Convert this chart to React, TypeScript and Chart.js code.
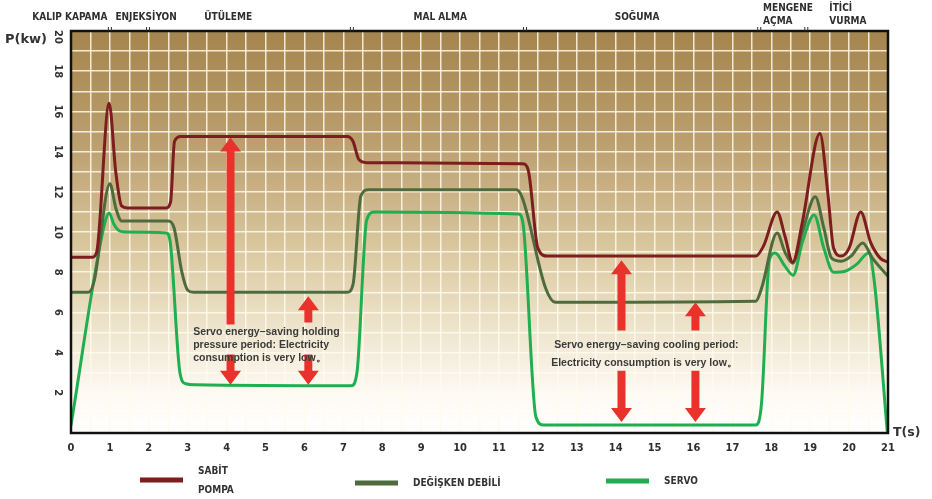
import React, { useEffect, useRef } from "react";
import { Chart, registerables } from "chart.js";

Chart.register(...registerables);

// ---------- data ----------
const seriesNames = ["SABİT\nPOMPA", "DEĞİŞKEN DEBİLİ", "SERVO"];
const seriesColors = ["#7d1d1e", "#4e6b3d", "#1fae50"];

const sabitT = [0, 0.55, 0.66, 0.98, 1.15, 1.3, 1.45, 2.45, 2.56, 2.66, 2.82, 7.1, 7.25, 7.4, 7.6, 11.6, 11.75, 12.0, 12.25, 17.6, 17.8, 18.15, 18.35, 18.55, 18.8, 19.25, 19.45, 19.6, 19.8, 20.0, 20.3, 20.55, 20.8, 21];
const sabitP = [8.75, 8.75, 9.0, 16.4, 13.0, 11.3, 11.2, 11.2, 11.5, 14.5, 14.75, 14.75, 14.5, 13.6, 13.45, 13.4, 13.1, 9.2, 8.8, 8.8, 9.3, 11.0, 9.8, 8.5, 10.5, 14.9, 12.0, 9.2, 8.8, 9.2, 11.0, 9.5, 8.7, 8.5];

const degiskenT = [0, 0.45, 0.6, 1.0, 1.15, 1.3, 2.5, 2.65, 2.85, 3.0, 3.15, 7.1, 7.25, 7.45, 7.65, 11.45, 11.6, 12.2, 12.45, 17.6, 17.75, 18.15, 18.35, 18.55, 18.8, 19.13, 19.35, 19.55, 19.8, 20.05, 20.35, 20.6, 21];
const degiskenP = [7.0, 7.0, 7.6, 12.4, 11.2, 10.55, 10.55, 10.2, 8.0, 7.1, 7.0, 7.0, 7.4, 11.8, 12.1, 12.1, 11.7, 7.2, 6.5, 6.55, 7.2, 9.95, 9.0, 8.45, 10.0, 11.75, 10.2, 8.7, 8.55, 8.8, 9.45, 8.7, 7.8];

const servoT = [0, 0.85, 0.98, 1.1, 1.25, 1.4, 2.45, 2.55, 2.8, 2.95, 3.2, 7.2, 7.35, 7.6, 7.8, 11.5, 11.62, 11.95, 12.15, 17.6, 17.75, 17.95, 18.1, 18.35, 18.56, 18.8, 19.1, 19.35, 19.6, 19.9, 20.2, 20.5, 20.65, 20.98];
const servoP = [0.4, 10.3, 10.95, 10.4, 10.05, 10.0, 9.95, 9.5, 3.0, 2.45, 2.4, 2.35, 3.0, 10.6, 11.0, 10.9, 10.4, 0.8, 0.4, 0.4, 1.5, 8.6, 8.95, 8.3, 7.85, 9.5, 10.85, 9.2, 8.0, 8.05, 8.4, 8.95, 7.5, 0.1];

// top phase labels (centre in seconds)
const phaseLabels = ["KALIP KAPAMA", "ENJEKSİYON", "ÜTÜLEME", "MAL ALMA", "SOĞUMA", "MENGENE\nAÇMA", "İTİCİ\nVURMA"];
const phaseCenters = [-0.03, 1.93, 4.04, 9.49, 14.55, 18.43, 19.97];
const phaseMarks = [1.0, 1.98, 7.22, 11.67, 17.69, 18.9];

// red arrows: x (s), tail (kW), head (kW)
const arrowX = [4.1, 6.1, 4.1, 6.1, 14.15, 16.05, 14.15, 16.05];
const arrowTail = [5.4, 5.5, 3.9, 3.9, 5.1, 5.1, 3.1, 3.1];
const arrowHead = [14.7, 6.8, 2.4, 2.4, 8.6, 6.5, 0.55, 0.55];

// notes: left x (s), first baseline (kW), lines
const noteX = [3.14, 12.42];
const noteY = [5.02, 4.38];
const noteLines = [
  ["Servo energy–saving holding", "pressure period: Electricity", "consumption is very low。"],
  ["Servo energy–saving cooling period:", "Electricity consumption is very low。"],
];

const xMin = 0, xMax = 21, yMin = 0, yMax = 20;

const NARROW = "'Liberation Sans Narrow', 'DejaVu Sans Condensed', 'Liberation Sans', sans-serif";

function toPts(t: number[], p: number[]) {
  return t.map((x, i) => ({ x, y: p[i] }));
}

function drawArrow(ctx: CanvasRenderingContext2D, x: number, yTail: number, yHead: number) {
  const shaftW = 8, headW = 21, headL = 14;
  const dir = yHead < yTail ? -1 : 1;
  const yBase = yHead - dir * headL;
  ctx.beginPath();
  ctx.moveTo(x - shaftW / 2, yTail);
  ctx.lineTo(x - shaftW / 2, yBase);
  ctx.lineTo(x - headW / 2, yBase);
  ctx.lineTo(x, yHead);
  ctx.lineTo(x + headW / 2, yBase);
  ctx.lineTo(x + shaftW / 2, yBase);
  ctx.lineTo(x + shaftW / 2, yTail);
  ctx.closePath();
  ctx.fill();
}

const decorPlugin = {
  id: "decor",
  beforeDraw(chart: any) {
    const { ctx, chartArea: a } = chart;
    const g = ctx.createLinearGradient(0, a.top, 0, a.bottom);
    g.addColorStop(0, "#a5854e");
    g.addColorStop(0.28, "#bb9f6f");
    g.addColorStop(0.55, "#dbc9a1");
    g.addColorStop(0.75, "#efe6cf");
    g.addColorStop(0.9, "#fcfaf3");
    g.addColorStop(1, "#ffffff");
    ctx.save();
    ctx.fillStyle = g;
    ctx.fillRect(a.left, a.top, a.right - a.left, a.bottom - a.top);
    ctx.restore();
  },
  afterDatasetsDraw(chart: any) {
    const { ctx, chartArea: a, scales } = chart;
    const xs = scales.x, ys = scales.y;
    ctx.save();
    // arrows
    ctx.fillStyle = "#e8322b";
    arrowX.forEach((ax, i) => {
      drawArrow(ctx, xs.getPixelForValue(ax), ys.getPixelForValue(arrowTail[i]), ys.getPixelForValue(arrowHead[i]));
    });
    // notes
    ctx.fillStyle = "#3a3a3a";
    ctx.font = "bold 10.5px 'Liberation Sans', Arial, sans-serif";
    ctx.textAlign = "left";
    ctx.textBaseline = "middle";
    noteLines.forEach((lines, i) => {
      const nx = xs.getPixelForValue(noteX[i]);
      const ny = ys.getPixelForValue(noteY[i]);
      const lh = i === 0 ? 13 : 18;
      lines.forEach((ln, j) => ctx.fillText(ln, nx - (i === 1 && j === 1 ? 3 : 0), ny + j * lh));
    });
    // border
    ctx.strokeStyle = "#111";
    ctx.lineWidth = 2.5;
    ctx.strokeRect(a.left, a.top, a.right - a.left, a.bottom - a.top);
    ctx.restore();
  },
  afterDraw(chart: any) {
    const { ctx, chartArea: a, scales } = chart;
    const xs = scales.x, ys = scales.y;
    ctx.save();
    ctx.fillStyle = "#333";
    // y tick labels, rotated
    ctx.font = `bold 11px ${NARROW}`;
    ctx.textAlign = "center";
    ctx.textBaseline = "middle";
    ys.ticks.forEach((t: any) => {
      const v = t.value;
      if (v > 0 && v % 2 === 0) {
        const py = ys.getPixelForValue(v);
        ctx.save();
        ctx.translate(a.left - 13, py + (v === 20 ? 6 : 0));
        ctx.rotate(Math.PI / 2);
        ctx.fillText(String(v), 0, 0);
        ctx.restore();
      }
    });
    // axis titles
    ctx.font = "bold 13px 'DejaVu Sans', sans-serif";
    ctx.textAlign = "left";
    ctx.fillText("P(kw)", 5, a.top + 9);
    ctx.font = "bold 12.5px 'DejaVu Sans', sans-serif";
    ctx.fillText("T(s)", a.right + 5, a.bottom);
    // phase labels
    ctx.font = `bold 10px ${NARROW}`;
    ctx.fillStyle = "#2e2e2e";
    phaseLabels.forEach((lab, i) => {
      const cx = xs.getPixelForValue(phaseCenters[i]);
      const lines = lab.split("\n");
      if (lines.length === 1) {
        ctx.textAlign = "center";
        ctx.fillText(lab, cx, a.top - 14);
      } else {
        const w = Math.max(...lines.map((l) => ctx.measureText(l).width));
        ctx.textAlign = "left";
        lines.forEach((l, j) => ctx.fillText(l, cx - w / 2, a.top - 23 + j * 13));
      }
    });
    // small phase marks on top border
    ctx.strokeStyle = "#333";
    ctx.lineWidth = 1;
    phaseMarks.forEach((m) => {
      const px = xs.getPixelForValue(m);
      ctx.beginPath();
      ctx.moveTo(px - 1.5, a.top - 4);
      ctx.lineTo(px - 1.5, a.top);
      ctx.moveTo(px + 1.5, a.top - 4);
      ctx.lineTo(px + 1.5, a.top);
      ctx.stroke();
    });
    // legend
    const legendSwatchX = [140, 355, 606];
    const legendY = [480, 483, 481];
    ctx.font = `bold 10px ${NARROW}`;
    ctx.textAlign = "left";
    seriesNames.forEach((name, i) => {
      ctx.fillStyle = seriesColors[i];
      ctx.fillRect(legendSwatchX[i], legendY[i] - 2.5, 43, 5);
      ctx.fillStyle = "#333";
      const lines = name.split("\n");
      const tx = legendSwatchX[i] + 58;
      if (lines.length === 1) {
        ctx.fillText(name, tx, legendY[i]);
      } else {
        lines.forEach((l, j) => ctx.fillText(l, tx, legendY[i] - 9 + j * 19));
      }
    });
    ctx.restore();
  },
};

export default function App() {
  const ref = useRef<HTMLCanvasElement>(null);
  useEffect(() => {
    document.body.style.margin = "0";
    if (!ref.current) return;
    const chart = new Chart(ref.current, {
      type: "line",
      data: {
        datasets: [
          { label: seriesNames[0], data: toPts(sabitT, sabitP), borderColor: seriesColors[0] },
          { label: seriesNames[1], data: toPts(degiskenT, degiskenP), borderColor: seriesColors[1] },
          { label: seriesNames[2], data: toPts(servoT, servoP), borderColor: seriesColors[2] },
        ].map((d) => ({
          ...d,
          borderWidth: 3,
          pointRadius: 0,
          fill: false,
          cubicInterpolationMode: "monotone" as const,
          borderCapStyle: "round" as const,
          borderJoinStyle: "round" as const,
        })),
      },
      options: {
        animation: false,
        responsive: false,
        layout: { padding: { top: 31, right: 44, left: 0, bottom: 0 } },
        plugins: { legend: { display: false }, tooltip: { enabled: false } },
        scales: {
          x: {
            type: "linear",
            min: xMin,
            max: xMax,
            afterFit: (s: any) => { s.height = 66; },
            grid: { color: "rgba(255,250,236,0.85)", lineWidth: 1.5, drawTicks: false },
            border: { display: false },
            ticks: {
              stepSize: 0.5,
              autoSkip: false,
              maxRotation: 0,
              padding: 9,
              color: "#2e2e2e",
              font: { family: NARROW, size: 11, weight: "bold" },
              callback: (v: any) => (Number.isInteger(v) ? String(v) : ""),
            },
          },
          y: {
            type: "linear",
            min: yMin,
            max: yMax,
            afterFit: (s: any) => { s.width = 71; },
            grid: { color: "rgba(255,250,236,0.85)", lineWidth: 1.5, drawTicks: false },
            border: { display: false },
            ticks: { stepSize: 1, display: false },
          },
        },
      },
      plugins: [decorPlugin],
    });
    return () => chart.destroy();
  }, []);
  return (
    <div style={{ position: "absolute", left: 0, top: 0, width: 932, height: 499, background: "#fff" }}>
      <canvas ref={ref} width={932} height={499} />
    </div>
  );
}
